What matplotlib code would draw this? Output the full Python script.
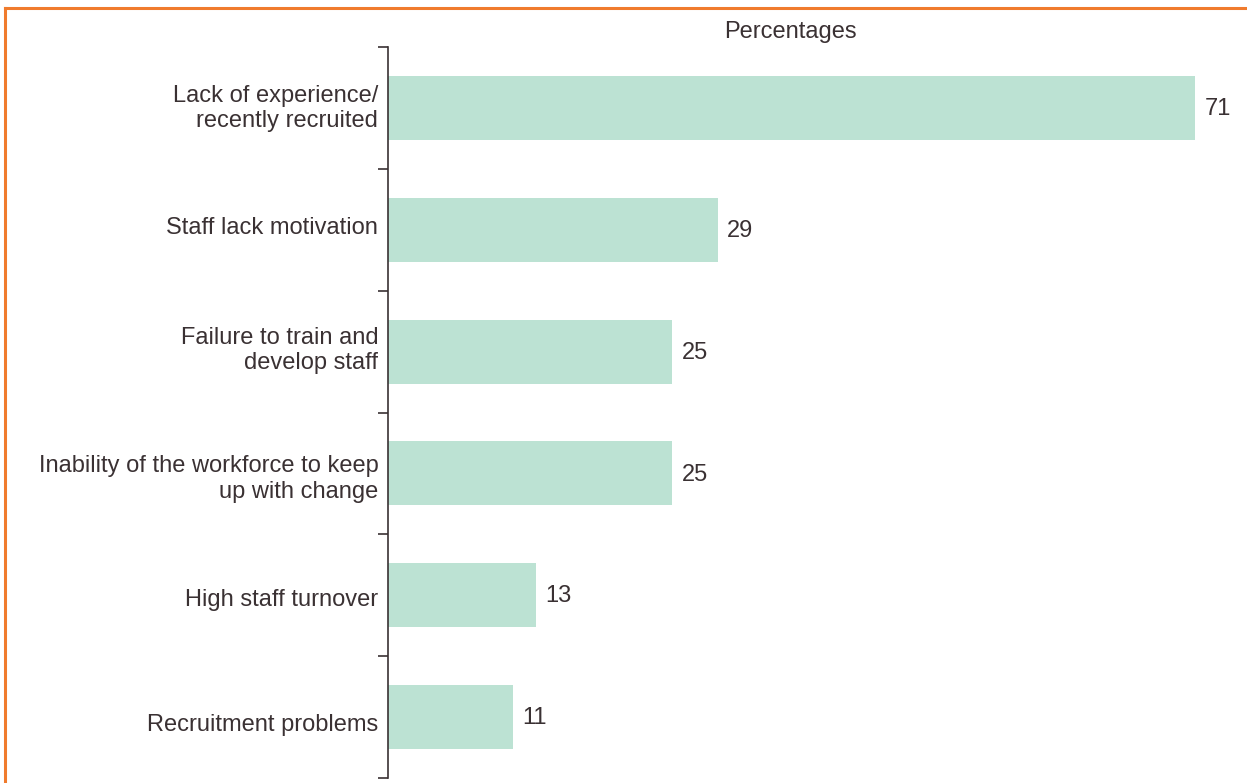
import matplotlib
matplotlib.use("Agg")
import matplotlib.pyplot as plt
from matplotlib.lines import Line2D
import matplotlib.transforms as mtransforms
import numpy as np

categories = ["Lack of experience/\nrecently recruited",
              "Staff lack motivation",
              "Failure to train and\ndevelop staff",
              "Inability of the workforce to keep\nup with change",
              "High staff turnover",
              "Recruitment problems"]
values = [71, 29, 25, 25, 13, 11]
axis_title = "Percentages"

text_color = "#3a3133"
bar_color = "#bce2d3"
border_color = "#f07b2d"

# small vertical nudges (pixels, up positive) of the category labels
label_nudge_px = [3.5, 4, 5.5, -1.5, -2, -5]

plt.rcParams['font.family'] = ['Liberation Sans', 'DejaVu Sans']

W, H = 1247, 783
fig = plt.figure(figsize=(W/100, H/100), dpi=100)
ax = fig.add_axes([388/W, 5/H, 852.5/W, 731/H])

y = np.arange(len(categories))
ax.barh(y, values, height=0.525, color=bar_color, left=0)
ax.set_ylim(len(categories) - 0.5, -0.5)
ax.set_xlim(0, 75)

for yi, v in zip(y, values):
    ax.text(v + 0.85, yi + 0.01, str(v), va="center", ha="left", fontsize=17, color=text_color)

ax.set_yticks(y)
ax.set_yticklabels(categories, fontsize=17, color=text_color, linespacing=1.2)
ax.tick_params(axis="y", which="major", length=0, pad=7)
for lab, d in zip(ax.get_yticklabels(), label_nudge_px):
    off = mtransforms.ScaledTranslation(0, d/100, fig.dpi_scale_trans)
    lab.set_transform(lab.get_transform() + off)
ax.set_yticks(np.arange(-0.5, len(categories), 1.0), minor=True)
ax.tick_params(axis="y", which="minor", length=7, width=1.2, color=text_color, direction="out")
ax.set_xticks([])
for s in ["top", "right", "bottom"]:
    ax.spines[s].set_visible(False)
ax.spines["left"].set_color(text_color)
ax.spines["left"].set_linewidth(1.2)

fig.text(790/W, 1 - 32/H, axis_title, ha="center", va="center", fontsize=17, color=text_color)

# orange frame (left and top)
fig.add_artist(Line2D([5/W, 5/W], [0, 1 - 8/H], color=border_color, lw=2.2, transform=fig.transFigure))
fig.add_artist(Line2D([5/W, 1], [1 - 8/H, 1 - 8/H], color=border_color, lw=2.2, transform=fig.transFigure))

fig.savefig("out.png", dpi=100)
